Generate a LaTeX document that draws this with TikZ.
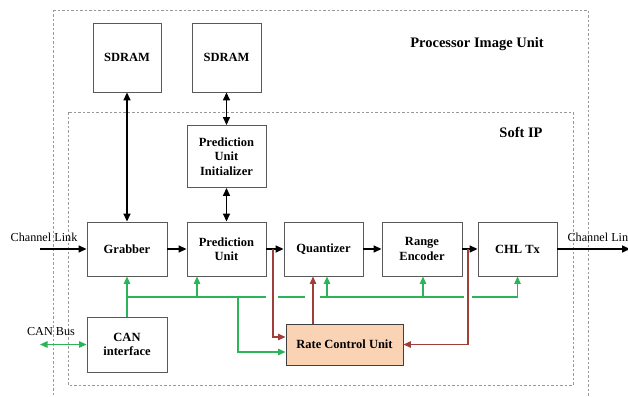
\documentclass[tikz,border=0pt]{standalone}
\usepackage{fontspec}
\setmainfont{Liberation Serif}
\usetikzlibrary{arrows.meta}
\definecolor{bus-green}{HTML}{2BB45A}
\definecolor{rate-red}{HTML}{A03F3A}
\definecolor{rate-fill}{HTML}{FAD2B4}
\tikzset{
    unit-box/.style = {draw=black!65, fill=white, line width=0.9pt, rectangle, align=center, inner sep=0pt, font=\bfseries\fontsize{12.5}{14.5}\selectfont},
    rate-box/.style = {unit-box, fill=rate-fill, draw=black!75},
    area-frame/.style = {draw=black!40, line width=0.7pt, dash pattern=on 2.5pt off 2pt},
    area-title/.style = {font=\bfseries\fontsize{14.5}{17}\selectfont},
    side-label/.style = {font=\fontsize{12.2}{14}\selectfont},
    data-link/.style = {line width=1.5pt, >={Triangle[length=8pt,width=7pt]}},
    bus-link/.style = {draw=bus-green, line width=1.2pt, >={Triangle[length=7.5pt,width=6.5pt]}},
    rate-link/.style = {draw=rate-red, line width=1.2pt, >={Triangle[length=7.5pt,width=6.5pt]}},
}

\begin{document}
\begin{tikzpicture}[x=1pt,y=-1pt]
\useasboundingbox (0,0) rectangle (628,396);
% dashed areas
\draw[area-frame] (53,10) rectangle (588,410);
\draw[area-frame] (68,112) rectangle (573,385);
\node[area-title] (piu-title) at (477,44) {Processor Image Unit};
\node[area-title] (ip-title) at (521,132) {Soft IP};

% memories
\node[unit-box, minimum width=68pt, minimum height=69pt] (sdram-a) at (127,57.5) {SDRAM};
\node[unit-box, minimum width=69pt, minimum height=69pt] (sdram-b) at (226.5,57.5) {SDRAM};
\node[unit-box, minimum width=79pt, minimum height=62pt] (init) at (226.5,156.5) {Prediction\\Unit\\Initializer};

% main chain
\node[unit-box, minimum width=80pt, minimum height=54pt] (grabber) at (127,249) {Grabber};
\node[unit-box, minimum width=79pt, minimum height=54pt] (pred) at (226.5,249) {Prediction\\Unit};
\node[unit-box, minimum width=79pt, minimum height=54pt] (quant) at (323.5,249) {Quantizer};
\node[unit-box, minimum width=80pt, minimum height=54pt] (range) at (422,249) {Range\\Encoder};
\node[unit-box, minimum width=79pt, minimum height=54pt] (chl) at (517.5,249) {CHL Tx};

\node[unit-box, minimum width=80pt, minimum height=55pt] (can) at (127,344.5) {CAN\\interface};
\node[rate-box, minimum width=117pt, minimum height=41pt] (rcu) at (344.5,344.5) {Rate Control Unit};

% channel link
\coordinate (link-in) at (40,249);
\coordinate (link-out) at (630,249);
\node[side-label] (link-in-label) at (44,237) {Channel Link};
\node[side-label, anchor=west] (link-out-label) at (564,237) {Channel Link};

\draw[data-link,->] (link-in) -- (grabber);
\draw[data-link,->] (grabber) -- (pred);
\draw[data-link,->] (pred) -- (quant);
\draw[data-link,->] (quant) -- (range);
\draw[data-link,->] (range) -- (chl);
\draw[data-link,->] (chl) -- (link-out);
\draw[data-link,<->] (sdram-a) -- (grabber);
\draw[data-link,<->] (sdram-b) -- (init);
\draw[data-link,<->] (init) -- (pred);

% green control bus, broken where the red lines cross it
\coordinate (bus-a) at (127,297);
\coordinate (bus-b) at (266,297);
\coordinate (bus-c) at (278,297);
\coordinate (bus-d) at (305,297);
\coordinate (bus-e) at (320,297);
\coordinate (bus-f) at (464,297);
\coordinate (bus-g) at (472,297);
\coordinate (tap-pred) at (197,297);
\coordinate (tap-rate) at (238,297);
\coordinate (tap-quant) at (327,297);
\coordinate (tap-range) at (423,297);
\coordinate (can-bus) at (40,344.5);
\node[side-label] (can-bus-label) at (51,332) {CAN Bus};

\draw[bus-link,<->] (can-bus) -- (can);
\draw[bus-link,->] (can) -- (grabber);
\draw[bus-link] (bus-a) -- (bus-b);
\draw[bus-link] (bus-c) -- (bus-d);
\draw[bus-link] (bus-e) -- (bus-f);
\draw[bus-link,->] (bus-g) -| (chl);
\draw[bus-link,->] (tap-pred) -- (tap-pred |- pred.south);
\draw[bus-link,->] (tap-quant) -- (tap-quant |- quant.south);
\draw[bus-link,->] (tap-range) -- (tap-range |- range.south);
\draw[bus-link,->] (tap-rate) |- ([yshift=-7.5pt]rcu.west);

% rate control loop
\coordinate (tap-pq) at (273,249);
\coordinate (tap-rc) at (468,249);
\draw[rate-link,->] (tap-pq) |- ([yshift=7.5pt]rcu.west);
\draw[rate-link,->] (tap-rc) |- (rcu.east);
\draw[rate-link,->] ([xshift=-31.5pt]rcu.north) -- ([xshift=-31.5pt]rcu.north |- quant.south);
\end{tikzpicture}
\end{document}
